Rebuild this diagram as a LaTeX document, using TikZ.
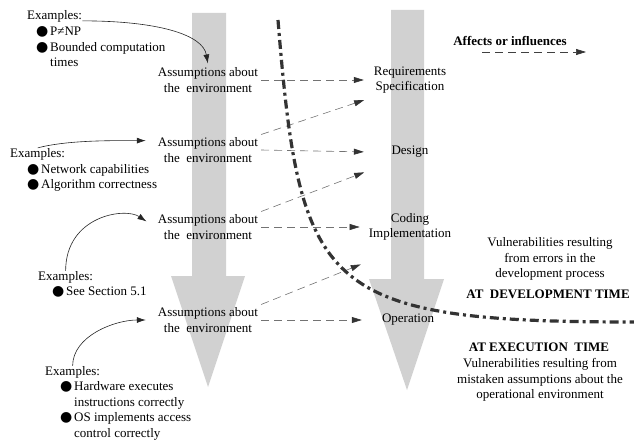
\documentclass[tikz,border=0pt]{standalone}
\usepackage{fontspec}
\setmainfont{Liberation Serif}
\newfontfamily\symfont{DejaVu Sans}
\usetikzlibrary{arrows.meta}
\usetikzlibrary{calc}
\newcommand{\bul}{\makebox[14pt][l]{\symfont\fontsize{14}{13}\selectfont ●}}
\newcommand{\bulgap}{\hspace*{14pt}}

\begin{document}
\begin{tikzpicture}[x=1pt, y=-1pt,
        txt/.style={inner sep=0pt, align=left, font=\fontsize{13}{15.5}\selectfont},
        hdr/.style={inner sep=0pt, font=\fontsize{13}{15.5}\selectfont\bfseries},
        assum/.style={inner sep=3pt, align=center, font=\fontsize{13}{15.5}\selectfont},
        phase/.style={inner sep=3pt, align=center, minimum width=80pt, minimum height=36pt, font=\fontsize{13}{15.5}\selectfont},
        stage/.style={fill=black!18},
        infl/.style={draw=black!55, line width=0.6pt, dash pattern=on 8pt off 5pt, shorten >=6pt, -{Triangle[length=10pt,width=6pt,color=black!80]}},
        ex/.style={draw=black!85, line width=0.6pt, -{Latex[length=9pt,width=6pt]}},
        border/.style={draw=black!80, line width=3.2pt, dash pattern=on 9pt off 4pt on 3pt off 4pt},
        ]
            \useasboundingbox (0,0) rectangle (634,441);

            % the two big arrows
            \fill[stage] (192,13) -- (226,13) -- (226,276) -- (245,276) -- (208,387) -- (171,276) -- (192,276) -- cycle;
            \fill[stage] (391,10) -- (424,10) -- (424,279) -- (444,279) -- (407,390) -- (369,279) -- (391,279) -- cycle;

            \node[assum] (A1) at (208,80) {Assumptions about\\the\ \ environment};
            \node[assum] (A2) at (208,150) {Assumptions about\\the\ \ environment};
            \node[assum] (A3) at (208,227) {Assumptions about\\the\ \ environment};
            \node[assum] (A4) at (208,320) {Assumptions about\\the\ \ environment};

            \node[phase] (R1) at (410,80) {Requirements\\Specification};
            \node[phase] (R2) at (410,152) {Design};
            \node[phase] (R3) at (410,227) {Coding\\Implementation};
            \node[phase] (R4) at (408,320) {Operation};

            \draw[infl] (A1.east) -- (R1.west);
            \draw[infl] (A2.east) -- (R2.west);
            \draw[infl] (A3.east) -- (R3.west);
            \draw[infl] (A4.east) -- (R4.west);
            \draw[infl] (A2.north east) -- (R1.south west);
            \draw[infl] (A3.north east) -- (R2.south west);
            \draw[infl] (A4.north east) -- ($(R3.south west)!0.3!(R4.north west)$);

            % examples
            \node[txt, anchor=west] (X1) at (27,16) {Examples:};
            \node[txt, anchor=west] (L1) at (36,47) {\bul P≠NP\\\bul Bounded computation\\\bulgap times};
            \node[txt, anchor=west] (X2) at (10,154) {Examples:};
            \node[txt, anchor=west] (L2) at (27,178) {\bul Network capabilities\\\bul Algorithm correctness};
            \node[txt, anchor=west] (X3) at (38,277) {Examples:};
            \node[txt, anchor=west] (L3) at (52,292) {\bul See Section 5.1};
            \node[txt, anchor=west] (X4) at (45,372) {Examples:};
            \node[txt, anchor=west] (L4) at (60,411) {\bul Hardware executes\\\bulgap instructions correctly\\\bul OS implements access\\\bulgap control correctly};

            \draw[ex, shorten >=1pt] (X1.-10) .. controls +(75,0) and +(-5,-30) .. (A1.north);
            \draw[ex, shorten >=9pt] (X2.north) .. controls +(30,-8) and +(-40,0) .. (A2.170);
            \draw[ex, shorten >=10pt] (X3.north) .. controls +(0,-55) and +(-30,-20) .. (A3.west);
            \draw[ex, shorten >=9pt] (X4.north) .. controls +(0,-30) and +(-40,0) .. (A4.west);

            % legend
            \node[hdr] (K) at (510,41) {Affects or influences};
            \coordinate (k1) at (482,52);
            \coordinate (k2) at (592,52);
            \draw[infl, draw=black!75] (k1) -- (k2);

            % development / execution boundary
            \draw[border] (278,20) .. controls (300,290) and (320,322) .. (634,322);

            \node[txt, align=center] (V1) at (550,259) {Vulnerabilities resulting\\from errors in the\\development process};
            \node[hdr] (T1) at (548,294) {AT\ \ DEVELOPMENT TIME};
            \node[hdr] (T2) at (539,347) {AT EXECUTION\ \ TIME};
            \node[txt, align=center] (V2) at (540,380) {Vulnerabilities resulting from\\mistaken assumptions about the\\operational environment};
        \end{tikzpicture}
\end{document}
